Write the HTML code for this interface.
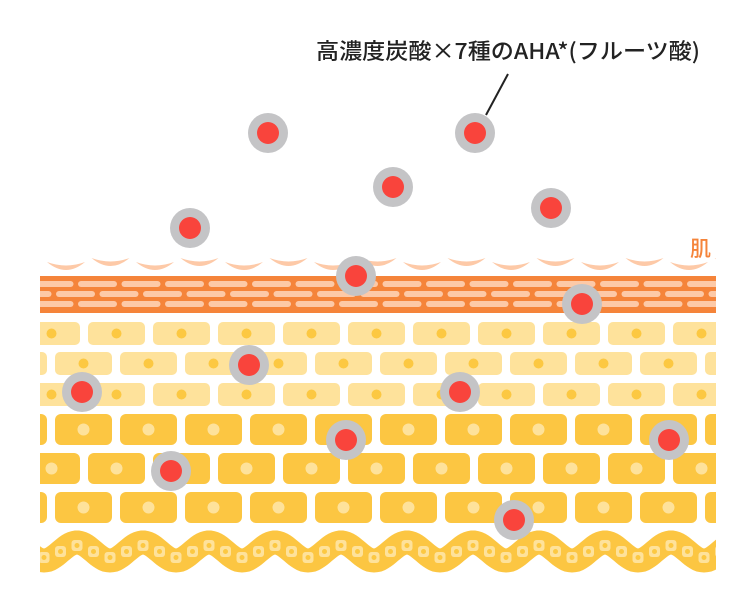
<!DOCTYPE html>
<html><head><meta charset="utf-8"><style>
html,body{margin:0;padding:0;background:#fff;width:756px;height:600px;overflow:hidden}
svg{display:block}
</style></head><body>
<svg id="s" width="756" height="600" xmlns="http://www.w3.org/2000/svg">
<defs><clipPath id="c"><rect x="40" y="0" width="676" height="600"/></clipPath></defs>
<text x="316" y="59" textLength="384" lengthAdjust="spacingAndGlyphs" font-family="Noto Sans CJK JP, Liberation Sans, sans-serif" font-size="22" font-weight="500" fill="#222">高濃度炭酸×7種のAHA*(フルーツ酸)</text>
<line x1="508" y1="74" x2="486" y2="115" stroke="#222" stroke-width="2"/>
<text x="690" y="256" font-family="Noto Sans CJK JP, Liberation Sans, sans-serif" font-size="21" font-weight="500" fill="#f5843a">肌</text>
<g id="layers" clip-path="url(#c)"></g>
<g id="parts"></g>
</svg>
<script>
var L=document.getElementById('layers'),P=document.getElementById('parts'),h='';
function r(x,y,w,hh,rx,f){return '<rect x="'+x+'" y="'+y+'" width="'+w+'" height="'+hh+'" rx="'+rx+'" fill="'+f+'"/>';}
function c(x,y,rr,f){return '<circle cx="'+x+'" cy="'+y+'" r="'+rr+'" fill="'+f+'"/>';}
for(var i=0;i<16;i++){var x0=47+i*44.5,y=(i%2?258:262);
h+='<path d="M'+x0+','+y+' Q'+(x0+19)+','+(y+16)+' '+(x0+38)+','+y+' Q'+(x0+19)+','+(y+7)+' '+x0+','+y+'Z" fill="#fdc9a7"/>';}
h+=r(40,276,676,37,0,'#f5843a');
[[281,35],[291,13],[301,35]].forEach(function(a){for(var x=a[1]-44;x<720;x+=43.5)h+=r(x,a[0],39,6,3,'#fdc9a7');});
[[322,88],[352,55],[383,88]].forEach(function(a){for(var x=a[1]-130;x<720;x+=65){h+=r(x,a[0],57,23,5,'#fee29b');h+=c(x+28.5,a[0]+11.5,5,'#fcc842');}});
[[414,55],[453,88],[492,55]].forEach(function(a){for(var x=a[1]-130;x<720;x+=65){h+=r(x,a[0],57,31,6,'#fcc642');h+=c(x+28.5,a[0]+15.5,6,'#fee29b');}});
function wy(x,a){return 551.5-a*Math.cos((x-77)/66*2*Math.PI);}
var d='';for(var x=30;x<=730;x+=2){d+=(x==30?'M':'L')+x+','+wy(x,9).toFixed(1);}
h+='<path d="'+d+'" stroke="#fcc642" stroke-width="24" fill="none"/>';
for(var x=44;x<730;x+=16.5){var yy=wy(x,6);h+=r(x-5.5,yy-5.5,11,11,3,'#fee29b');h+=c(x,yy,2.5,'#fcc842');}
L.innerHTML=h;
var pts=[[268,133],[475,133],[393,187],[551,208],[190,228],[356,276],[582,304],[249,365],[82,392],[460,392],[346,440],[669,440],[171,471],[514,520]],q='';
pts.forEach(function(p){q+=c(p[0],p[1],20,'#c4c4c6')+c(p[0],p[1],11,'#f9443c');});
P.innerHTML=q;
</script>
</body></html>
